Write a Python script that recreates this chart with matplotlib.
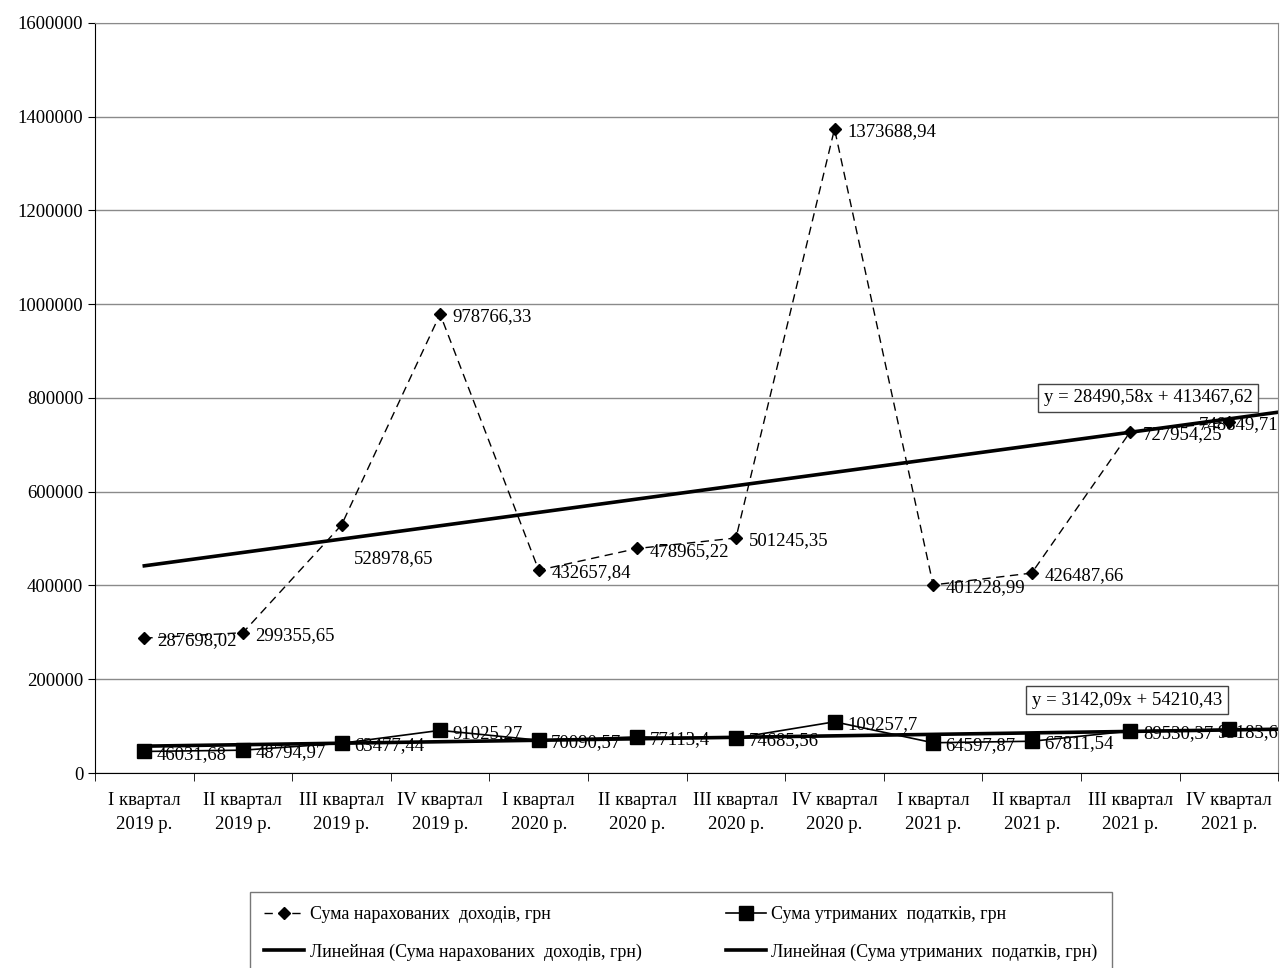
import numpy as np
import matplotlib.pyplot as plt
from matplotlib.ticker import FixedLocator, NullFormatter, StrMethodFormatter

plt.rcParams['font.family'] = ['Liberation Serif', 'DejaVu Serif']

quarters = ['I квартал\n2019 р.', 'II квартал\n2019 р.', 'III квартал\n2019 р.', 'IV квартал\n2019 р.',
            'I квартал\n2020 р.', 'II квартал\n2020 р.', 'III квартал\n2020 р.', 'IV квартал\n2020 р.',
            'I квартал\n2021 р.', 'II квартал\n2021 р.', 'III квартал\n2021 р.', 'IV квартал\n2021 р.']
income = [287698.02, 299355.65, 528978.65, 978766.33, 432657.84, 478965.22,
          501245.35, 1373688.94, 401228.99, 426487.66, 727954.25, 748849.71]
taxes = [46031.68, 48794.97, 63477.44, 91025.27, 70090.57, 77113.4,
         74685.56, 109257.7, 64597.87, 67811.54, 89530.37, 93183.6]
income_trend = (28490.58, 413467.62)
taxes_trend = (3142.09, 54210.43)

x = np.arange(1, len(quarters) + 1)
# linear trends run half a period past the last quarter
xt = np.array([x[0], x[-1] + 0.5])

fig = plt.figure(figsize=(12.84, 9.68), dpi=100)
ax = fig.add_axes([0.074, 0.2014, 0.9215, 0.775])

ax.yaxis.grid(True, color='#8a8a8a', linewidth=1)
ax.set_axisbelow(True)

l_inc, = ax.plot(x, income, linestyle=(0, (6, 4)), color='black', linewidth=1,
                 marker='D', markersize=6.5, label='Сума нарахованих  доходів, грн')
l_tax, = ax.plot(x, taxes, linestyle='-', color='black', linewidth=1.2,
                 marker='s', markersize=9.5, label='Сума утриманих  податків, грн')

a, b = income_trend
t_inc, = ax.plot(xt, a * xt + b, color='black', linewidth=2.6,
                 label='Линейная (Сума нарахованих  доходів, грн)')
a, b = taxes_trend
t_tax, = ax.plot(xt, a * xt + b, color='black', linewidth=2.6,
                 label='Линейная (Сума утриманих  податків, грн)')

# data labels to the right of each point; the last ones are pulled left to fit
inc_dx = [9] * 11 + [-22]
inc_dy = [-2, -2, -24, -2, -2, -2, -2, -2, -2, -2, -2, -2]
tax_dx = [9] * 11 + [-8]
for i, v in enumerate(income):
    ax.annotate(str(v).replace('.', ','), (x[i], v), xytext=(inc_dx[i], inc_dy[i]),
                textcoords='offset points', va='center', ha='left', fontsize=13.5)
for i, v in enumerate(taxes):
    ax.annotate(str(v).replace('.', ','), (x[i], v), xytext=(tax_dx[i], -2),
                textcoords='offset points', va='center', ha='left', fontsize=13.5)

box = dict(boxstyle='square,pad=0.3', facecolor='white', edgecolor='#444444', linewidth=1)
ax.text(10.12, 800000, 'y = 28490,58x + 413467,62', fontsize=13.5, va='center', ha='left', bbox=box)
ax.text(10.0, 155000, 'y = 3142,09x + 54210,43', fontsize=13.5, va='center', ha='left', bbox=box)

ax.set_xlim(0.5, 12.5)
ax.set_ylim(0, 1600000)
ax.set_yticks(np.arange(0, 1600001, 200000))
ax.yaxis.set_major_formatter(StrMethodFormatter('{x:.0f}'))
ax.set_xticks(x)
ax.set_xticklabels(quarters, fontsize=13.5, linespacing=1.5)
ax.xaxis.set_minor_locator(FixedLocator(np.arange(0.5, 12.6, 1)))
ax.xaxis.set_minor_formatter(NullFormatter())
ax.tick_params(axis='x', which='major', length=0, pad=14)
ax.tick_params(axis='x', which='minor', length=6, direction='out')
ax.tick_params(axis='y', labelsize=13.5, length=5, direction='out')

for side in ('top', 'right'):
    ax.spines[side].set_color('#8a8a8a')
for side in ('left', 'bottom'):
    ax.spines[side].set_color('black')

leg = fig.legend([l_inc, t_inc, l_tax, t_tax],
                 [h.get_label() for h in (l_inc, t_inc, l_tax, t_tax)],
                 loc='upper left', bbox_to_anchor=(250 / 1284, 1 - 892 / 968), ncol=2,
                 fontsize=13, frameon=True, fancybox=False, edgecolor='#555555',
                 columnspacing=4.7, handlelength=2.2, handletextpad=0.3, labelspacing=1.1,
                 borderpad=0.8, borderaxespad=0)
leg.get_frame().set_linewidth(1)

fig.savefig('out.png', dpi=100)
